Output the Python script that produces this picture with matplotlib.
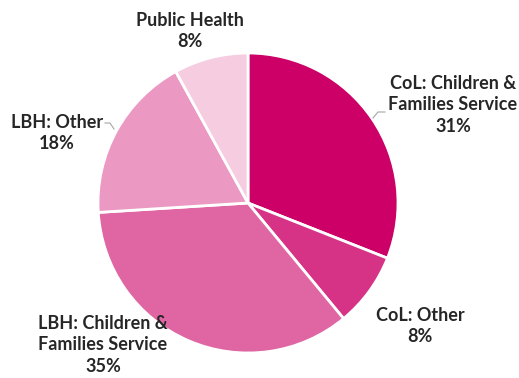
import matplotlib.pyplot as plt

labels = ["CoL: Children &\nFamilies Service", "CoL: Other",
          "LBH: Children &\nFamilies Service", "LBH: Other", "Public Health"]
shares = [31, 8, 35, 18, 8]
colours = ["#CC0066", "#D63387", "#E066A3", "#EB99C2", "#F5CCE0"]

# label centres in pixel coords (y measured from the top)
label_pos = [(453, 105), (420, 326), (103, 345), (57, 133), (190, 31)]

W, H = 519, 378
fig = plt.figure(figsize=(W / 100, H / 100), dpi=100)
ax = fig.add_axes([0, 0, 1, 1])

ax.pie(shares, colors=colours, startangle=90, counterclock=False,
       center=(248, H - 203), radius=150,
       wedgeprops=dict(edgecolor="white", linewidth=2))

# pie() resets the limits, so fix the pixel frame afterwards
ax.set_xlim(0, W)
ax.set_ylim(0, H)
ax.set_aspect("equal")
ax.axis("off")

for lab, val, (px, py) in zip(labels, shares, label_pos):
    ax.text(px, H - py, f"{lab}\n{val}%", ha="center", va="center",
            fontsize=13, fontweight="bold", family="Lato", color="#262626",
            linespacing=1.3)

# leader lines
ax.plot([373, 378, 385], [H - 118, H - 112, H - 112], color="#A6A6A6", lw=0.8)
ax.plot([105, 110, 114], [H - 123, H - 123, H - 129], color="#A6A6A6", lw=0.8)

fig.savefig("out.png", dpi=100)
